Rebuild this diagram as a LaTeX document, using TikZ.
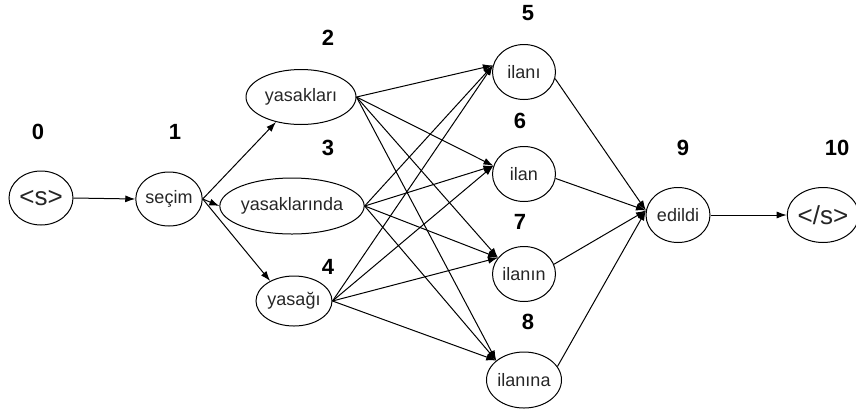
\documentclass[tikz,border=0pt]{standalone}
\usepackage{fontspec}
\setmainfont{Liberation Sans}
\usetikzlibrary{shapes.geometric,arrows.meta}
\begin{document}
\begin{tikzpicture}[x=1pt,y=-1pt,
  wnode/.style={ellipse,draw,line width=1pt,inner sep=0pt,font=\fontsize{18}{18}\selectfont,text=black!85},
  snode/.style={wnode,font=\fontsize{26}{26}\selectfont},
  idx/.style={font=\fontsize{22}{22}\selectfont\bfseries},
  arr/.style={line width=1pt,-{Latex[length=10pt,width=7pt]}}]
\useasboundingbox (0,0) rectangle (856,416);
% nodes
\node[snode,minimum width=64,minimum height=54] (s0) at (41,198) {<s>};
\node[wnode,minimum width=65,minimum height=54] (s1) at (169,199) {seçim};
\node[wnode,minimum width=110,minimum height=55] (y2) at (301,97) {yasakları};
\node[wnode,minimum width=128,minimum height=56] (y3) at (292,206) {yasaklarında};
\node[wnode,minimum width=76,minimum height=50] (y4) at (294,301) {yasağı};
\node[wnode,minimum width=63,minimum height=55] (i5) at (524,72) {ilanı};
\node[wnode,minimum width=63,minimum height=55] (i6) at (524,174) {ilan};
\node[wnode,minimum width=63,minimum height=55] (i7) at (524,274) {ilanın};
\node[wnode,minimum width=63,minimum height=56] (i8) at (524,380) {ilanına};
\node[wnode,minimum width=64,minimum height=55] (e9) at (678,215) {edildi};
\node[snode,minimum width=63,minimum height=55] (e10) at (823,215) {</s>};
% index labels
\node[idx] (l0) at (38,132) {0};
\node[idx] (l1) at (175,132) {1};
\node[idx] (l2) at (328,38) {2};
\node[idx] (l3) at (328,148) {3};
\node[idx] (l4) at (328,267) {4};
\node[idx] (l5) at (528,13) {5};
\node[idx] (l6) at (520,121) {6};
\node[idx] (l7) at (520,222) {7};
\node[idx] (l8) at (528,322) {8};
\node[idx] (l9) at (683,148) {9};
\node[idx] (l10) at (837,148) {10};
% edges
\draw[arr] (s0.east) -- (s1.west);
\draw[arr] (s1.east) -- (y2.225);
\draw[arr] (s1.east) -- (y3.west);
\draw[arr] (s1.east) -- (y4.140);
\foreach \a in {y2,y3,y4}{
  \draw[arr] (\a.east) -- (i5.168);
  \draw[arr] (\a.east) -- (i6.165);
  \draw[arr] (\a.east) -- (i7.148);
  \draw[arr] (\a.east) -- (i8.145);
}
\draw[arr] (i5.-12) -- (e9.172);
\draw[arr] (i6.-8) -- (e9.172);
\draw[arr] (i7.18) -- (e9.172);
\draw[arr] (i8.22) -- (e9.172);
\draw[arr] (e9.east) -- (e10.west);
\end{tikzpicture}
\end{document}
